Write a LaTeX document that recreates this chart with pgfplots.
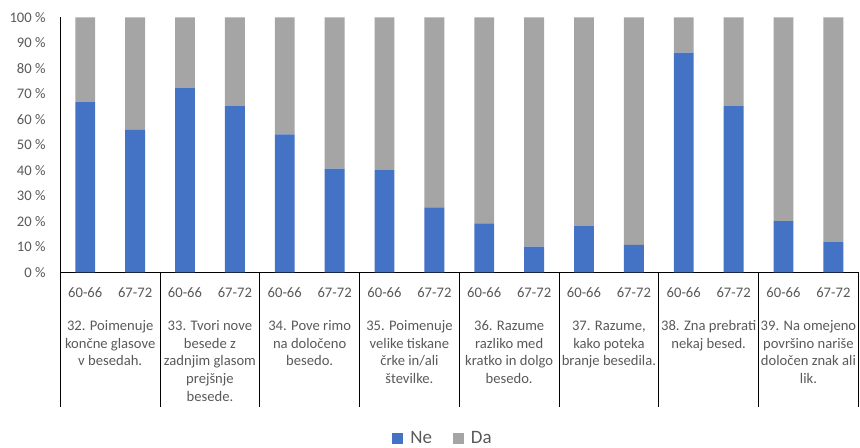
\documentclass[border=0pt]{standalone}
\usepackage{fontspec}
\setmainfont{Carlito}
\usepackage{pgfplots}
\pgfplotsset{compat=1.18}
\definecolor{neblue}{HTML}{4472C4}
\definecolor{dagray}{HTML}{A5A5A5}
\definecolor{txt}{HTML}{595959}

% share of answers per item and age group (in percent)
\pgfplotstableread{
x  ne    da
0  66.9  33.1
1  55.9  44.1
2  72.4  27.6
3  65.4  34.6
4  54.1  45.9
5  40.7  59.3
6  40.3  59.7
7  25.5  74.5
8  19.2  80.8
9  10.1  89.9
10 18.3  81.7
11 10.8  89.2
12 86.1  13.9
13 65.4  34.6
14 20.1  79.9
15 12.0  88.0
}\results

\begin{document}
\begin{tikzpicture}
\useasboundingbox (-60.3bp,-175.7bp) rectangle (799.7bp,272.3bp);
\begin{axis}[
  at={(0,0)}, anchor=south west,
  scale only axis, width=798bp, height=255bp,
  clip=false,
  ybar stacked, bar width=0.4,
  xmin=-0.5, xmax=15.5, ymin=0, ymax=100,
  axis x line*=bottom, axis y line*=left,
  axis line style={-, black, line width=0.8bp},
  major tick length=0pt,
  ytick={0,10,...,100},
  yticklabels={0 \%,10 \%,20 \%,30 \%,40 \%,50 \%,60 \%,70 \%,80 \%,90 \%,100 \%},
  yticklabel style={anchor=east, inner sep=0pt, xshift=-14.6bp},
  xtick={0,...,15},
  xticklabels={60-66,67-72,60-66,67-72,60-66,67-72,60-66,67-72,60-66,67-72,60-66,67-72,60-66,67-72,60-66,67-72},
  xticklabel style={anchor=center, inner sep=0pt, yshift=-20bp},
  tick label style={font=\fontsize{14.67}{17.9}\selectfont, text=txt},
  extra x ticks={0.5,2.5,...,14.5},
  extra x tick labels={
    {\strut 32. Poimenuje\\končne glasove\\v besedah.},
    {\strut 33. Tvori nove\\besede z\\zadnjim glasom\\prejšnje\\besede.},
    {\strut 34. Pove rimo\\na določeno\\besedo.},
    {\strut 35. Poimenuje\\velike tiskane\\črke in/ali\\številke.},
    {\strut 36. Razume\\razliko med\\kratko in dolgo\\besedo.},
    {\strut 37. Razume,\\kako poteka\\branje besedila.},
    {\strut 38. Zna prebrati\\nekaj besed.},
    {\strut 39. Na omejeno\\površino nariše\\določen znak ali\\lik.}},
  extra x tick style={xticklabel style={anchor=north, align=center, yshift=-25.2bp}},
  legend style={at={(0.4796,-0.652)}, anchor=center, draw=none, fill=none,
    legend columns=2, font=\fontsize{19}{22}\selectfont, text=txt,
    /tikz/every odd column/.append style={column sep=5bp},
    /tikz/every even column/.append style={column sep=19bp}},
  legend image code/.code={\fill[#1] (0bp,-5bp) rectangle (11bp,6bp);},
]
\addplot[fill=neblue, draw=none] table[x=x, y=ne] {\results};
\addplot[fill=dagray, draw=none] table[x=x, y=da] {\results};
\legend{Ne, Da}
\end{axis}
% dividers between the item groups below the axis
\foreach \k in {0,...,8}
  \draw[black, line width=0.8bp] (\k*99.75bp,0) -- ++(0,-134.7bp);
\end{tikzpicture}
\end{document}
